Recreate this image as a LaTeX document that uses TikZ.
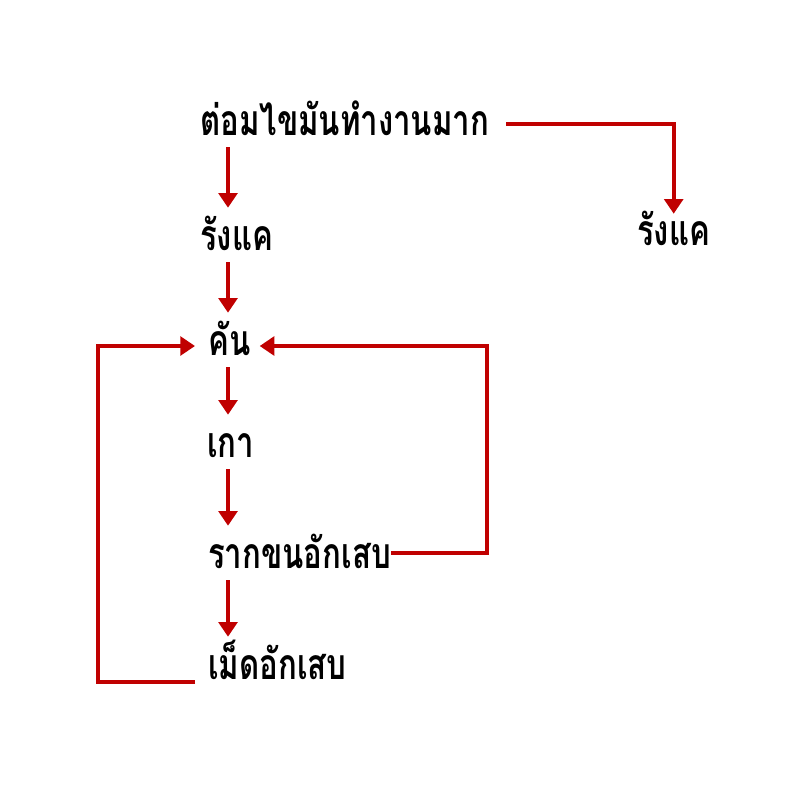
\documentclass[tikz,border=0pt]{standalone}
\usepackage{fontspec}
\usetikzlibrary{arrows.meta}

\newfontfamily\thaifont[Script=Thai, FakeStretch=0.73]{Loma}
\definecolor{flowred}{HTML}{C00000}

\tikzset{
	step label/.style = {anchor = base west, inner sep = 0pt, text height = 31.5pt, text depth = 9pt,
		font = \thaifont\bfseries\fontsize{32}{38}\selectfont},
	flow/.style = {draw = flowred, line width = 2.8pt, -{Triangle[width = 14pt, length = 11pt]}}
}

\begin{document}
\begin{tikzpicture}[x = 0.75pt, y = -0.75pt]

	% Page frame (800 x 800 px)

	\useasboundingbox (0, 0) rectangle (800, 800);

	% Spine of the main chain

	\coordinate (spine) at (228, 0);

	% Steps

	\node [step label] (gland)  at (200, 135) {ต่อมไขมันทำงานมาก};
	\node [step label] (dandr)  at (200, 250) {รังแค};
	\node [step label] (dandr2) at (637, 245) {รังแค};
	\node [step label] (itch)   at (208, 355) {คัน};
	\node [step label] (scratch) at (207, 457) {เกา};
	\node [step label] (follic) at (208, 568) {รากขนอักเสบ};
	\node [step label] (pimple) at (208, 679) {เม็ดอักเสบ};

	% Main chain

	\draw [flow] (gland.south -| spine) -- (dandr.north -| spine);
	\draw [flow] (dandr.south -| spine) -- (itch.north -| spine);
	\draw [flow] (itch.south -| spine) -- (scratch.north -| spine);
	\draw [flow] (scratch.south -| spine) -- (follic.north -| spine);
	\draw [flow] (follic.south -| spine) -- (pimple.north -| spine);

	% Side branch

	\draw [flow] ([xshift = 12.75pt, yshift = 8.25pt] gland.base east) -| ([yshift = -8.25pt] dandr2.north);

	% Loops back to itching

	\draw [flow] ([yshift = 11.25pt] follic.base east) -- ++(96, 0) |- ([xshift = 6.75pt, yshift = 6.75pt] itch.base east);
	\draw [flow] ([xshift = -9.75pt, yshift = -2.25pt] pimple.base west) -- ++(-97, 0) |- ([xshift = -9.75pt, yshift = 6.75pt] itch.base west);

\end{tikzpicture}
\end{document}
